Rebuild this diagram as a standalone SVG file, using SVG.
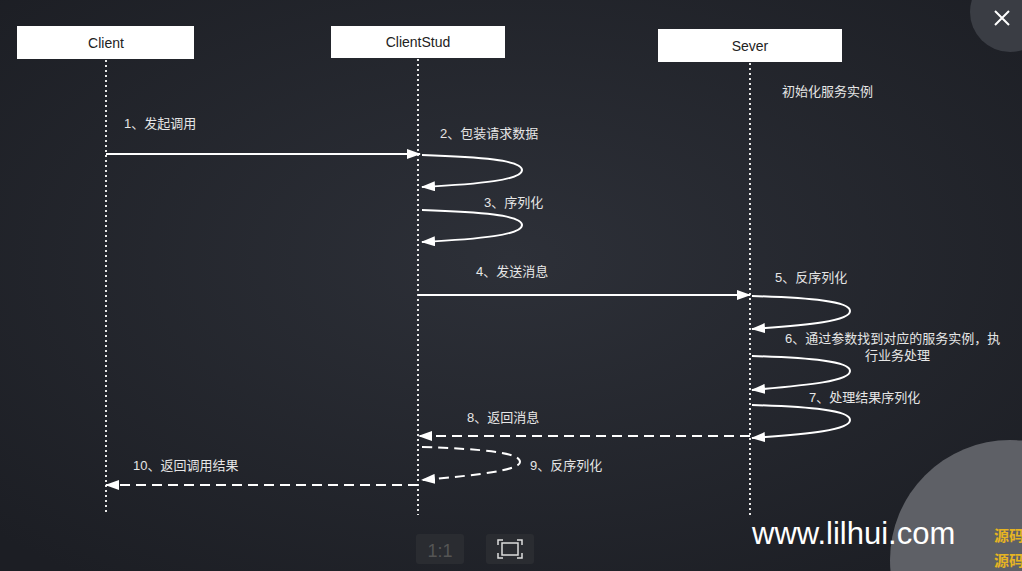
<svg xmlns="http://www.w3.org/2000/svg" width="1022" height="571" viewBox="0 0 1022 571">
<defs>
<radialGradient id="bg" cx="0.5" cy="0.45" r="0.7"><stop offset="0" stop-color="#2d3038"/><stop offset="1" stop-color="#1c1e24"/></radialGradient>
<marker id="ah" markerWidth="14" markerHeight="10" refX="13" refY="5" orient="auto" markerUnits="userSpaceOnUse"><path d="M0,0 L14,5 L0,10 Z" fill="#fff"/></marker>
<style>
.box{fill:#fff}
.bt{font-family:"Liberation Sans",Arial,sans-serif;font-size:14px;fill:#222;text-anchor:middle}
.life{stroke:#e8e8e8;stroke-width:2;stroke-dasharray:2 3}
.msg{stroke:#fff;stroke-width:2;fill:none}
.dash{stroke-dasharray:10 6}
.lb{font-family:"Liberation Sans","Noto Sans CJK SC",sans-serif;font-size:13px;fill:#e6e6e6}
</style>
</defs>
<rect width="1022" height="571" fill="url(#bg)"/>
<circle cx="1010" cy="12" r="40" fill="#3a3d44"/>
<path d="M995,11 L1009,25 M1009,11 L995,25" stroke="#fff" stroke-width="2"/>
<circle cx="1010" cy="560" r="120" fill="#5e6066"/>
<rect x="416" y="534" width="48" height="30" rx="3" fill="#2a2c31"/>
<text x="440" y="557" font-family="Liberation Sans,sans-serif" font-size="18" fill="#555" text-anchor="middle">1:1</text>
<rect x="486" y="534" width="48" height="30" rx="3" fill="#2a2c31"/>
<path d="M498,545 v-5 h5 M517,540 h5 v5 M522,553 v5 h-5 M503,558 h-5 v-5" stroke="#ddd" stroke-width="1.5" fill="none"/>
<rect x="502" y="543" width="16" height="12" stroke="#ddd" stroke-width="1.5" fill="none"/>
<g id="client"><rect class="box" x="17" y="26" width="177" height="33"/><text class="bt" x="106" y="48">Client</text></g>
<g id="clientstud"><rect class="box" x="331" y="26" width="174" height="32"/><text class="bt" x="418" y="47">ClientStud</text></g>
<g id="sever"><rect class="box" x="658" y="29" width="184" height="33"/><text class="bt" x="750" y="51">Sever</text></g>
<g id="connectors">
<line class="life" x1="106" y1="60" x2="106" y2="515"/>
<line class="life" x1="418" y1="59" x2="418" y2="515"/>
<line class="life" x1="750" y1="63" x2="750" y2="515"/>
<line class="msg" x1="106" y1="154" x2="420" y2="154" marker-end="url(#ah)"/>
<path class="msg" d="M422,155 C480,157 522,160 522,170 C522,180 480,184 422,187" marker-end="url(#ah)"/>
<path class="msg" d="M422,210 C480,212 522,215 522,225 C522,235 480,239 422,242" marker-end="url(#ah)"/>
<line class="msg" x1="418" y1="295" x2="750" y2="295" marker-end="url(#ah)"/>
<path class="msg" d="M752,296 C810,298 850,301 850,311 C850,321 810,325 752,329" marker-end="url(#ah)"/>
<path class="msg" d="M752,356 C810,358 850,361 850,371 C850,381 810,385 752,390" marker-end="url(#ah)"/>
<path class="msg" d="M752,405 C810,407 850,410 850,420 C850,430 810,434 752,438" marker-end="url(#ah)"/>
<line class="msg dash" x1="750" y1="436" x2="419" y2="436" marker-end="url(#ah)"/>
<path class="msg dash" d="M422,447 C480,449 520,452 520,462 C520,470 480,475 422,480" marker-end="url(#ah)"/>
<line class="msg dash" x1="418" y1="485" x2="106" y2="485" marker-end="url(#ah)"/>
</g>
<text class="lb" x="124" y="128">1、发起调用</text>
<text class="lb" x="440" y="138">2、包装请求数据</text>
<text class="lb" x="484" y="207">3、序列化</text>
<text class="lb" x="476" y="276">4、发送消息</text>
<text class="lb" x="782" y="96">初始化服务实例</text>
<text class="lb" x="775" y="282">5、反序列化</text>
<text class="lb" x="785" y="343">6、通过参数找到对应的服务实例，执</text>
<text class="lb" x="865" y="360">行业务处理</text>
<text class="lb" x="809" y="402">7、处理结果序列化</text>
<text class="lb" x="467" y="422">8、返回消息</text>
<text class="lb" x="530" y="470">9、反序列化</text>
<text class="lb" x="133" y="470">10、返回调用结果</text>
<text x="752" y="544" font-family="Liberation Sans,sans-serif" font-size="31" fill="#fff">www.lilhui.com</text>
<text x="994" y="541" font-family="Noto Sans CJK SC,sans-serif" font-size="15" font-weight="bold" fill="#e6b422">源码</text>
<text x="994" y="566" font-family="Noto Sans CJK SC,sans-serif" font-size="15" font-weight="bold" fill="#e6b422">源码</text>
</svg>
